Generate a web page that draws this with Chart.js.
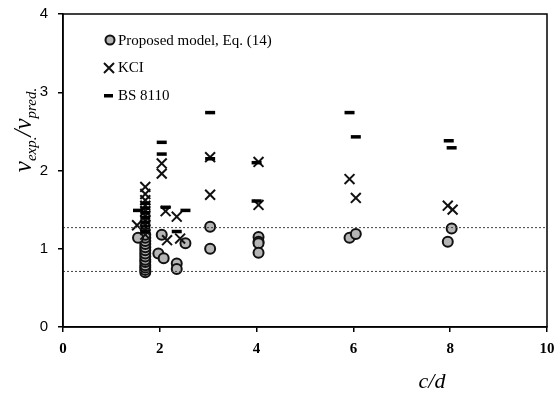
<!DOCTYPE html>
<html>
<head>
<meta charset="utf-8">
<script src="https://cdn.jsdelivr.net/npm/chart.js@4"></script>
<style>
  html, body { margin: 0; padding: 0; background: #fff; }
  #wrap { width: 556px; height: 397px; }
</style>
</head>
<body>
<div id="wrap"><canvas id="chart" width="556" height="397"></canvas></div>
<script>
// values
const proposedX = [1.7, 1.7, 1.7, 1.7, 1.7, 1.7, 1.7, 1.7, 1.7, 1.7, 1.7, 1.7, 1.7, 1.7,
                   1.55, 2.04, 1.97, 2.08, 2.35, 2.35, 2.53, 3.04, 3.04,
                   4.04, 4.04, 4.04, 4.04, 5.92, 6.05, 7.95, 8.03];
const proposedY = [0.70, 0.73, 0.76, 0.79, 0.83, 0.86, 0.90, 0.94, 0.98, 1.02, 1.06, 1.10, 1.14, 1.18,
                   1.14, 1.18, 0.94, 0.88, 0.81, 0.74, 1.07, 1.28, 1.00,
                   1.15, 1.09, 1.07, 0.95, 1.14, 1.19, 1.09, 1.26];

const kciX = [1.7, 1.7, 1.7, 1.7, 1.7, 1.7, 1.7, 1.7, 1.7, 1.7,
              1.53, 2.04, 2.04, 2.12, 2.15, 2.35, 2.42, 3.04, 3.04,
              4.04, 4.04, 5.92, 6.05, 7.95, 8.05];
const kciY = [1.79, 1.70, 1.62, 1.55, 1.48, 1.42, 1.36, 1.30, 1.24, 1.18,
              1.30, 2.09, 1.96, 1.48, 1.11, 1.41, 1.13, 2.17, 1.69,
              2.11, 1.56, 1.89, 1.65, 1.55, 1.50];

const bsX = [1.7, 1.7, 1.7, 1.7, 1.7, 1.7, 1.7,
             1.55, 2.04, 2.04, 2.12, 2.35, 2.53, 3.04, 3.04,
             4.0, 4.0, 5.92, 6.05, 7.97, 8.03];
const bsY = [1.58, 1.52, 1.46, 1.40, 1.34, 1.28, 1.22,
             1.49, 2.36, 2.21, 1.53, 1.22, 1.49, 2.74, 2.15,
             2.10, 1.61, 2.74, 2.43, 2.38, 2.29];

const limitX = [0, 10];
const upperLimit = 1.27;
const lowerLimit = 0.71;

const xTicks = [0, 2, 4, 6, 8, 10];
const yTicks = [0, 1, 2, 3, 4];

function pts(xs, ys) {
    return xs.map(function(x, i) { return { x: x, y: ys[i] }; });
}

// frame, legend and axis titles
const decor = {
    id: 'decor',
    afterDraw(chart) {
        const ctx = chart.ctx;
        const a = chart.chartArea;
        ctx.save();
        ctx.strokeStyle = '#000';
        ctx.lineWidth = 1.5;
        ctx.strokeRect(a.left, a.top, a.right - a.left, a.bottom - a.top);

        // legend
        ctx.font = '15px "Liberation Serif"';
        ctx.fillStyle = '#000';
        ctx.textBaseline = 'middle';
        ctx.textAlign = 'left';
        // circle
        ctx.beginPath();
        ctx.arc(110, 40, 4.5, 0, Math.PI * 2);
        ctx.fillStyle = '#b5b5b5';
        ctx.fill();
        ctx.lineWidth = 2;
        ctx.strokeStyle = '#111';
        ctx.stroke();
        ctx.fillStyle = '#000';
        ctx.fillText('Proposed model, Eq. (14)', 118, 41);
        // cross
        ctx.beginPath();
        ctx.moveTo(104, 63); ctx.lineTo(114, 73);
        ctx.moveTo(114, 63); ctx.lineTo(104, 73);
        ctx.lineWidth = 2;
        ctx.stroke();
        ctx.fillText('KCI', 118, 68);
        // dash
        ctx.fillRect(104, 94, 9, 3.5);
        ctx.fillText('BS 8110', 118, 96);

        // x title
        ctx.font = 'italic 22px "Liberation Serif"';
        ctx.textAlign = 'center';
        ctx.fillText('c/d', 432, 382);

        // y title with subscripts
        ctx.translate(27, 130);
        ctx.rotate(-Math.PI / 2);
        const parts = [
            ['v', 'italic 25px "Liberation Serif"', 0],
            ['exp.', 'italic 15px "Liberation Serif"', 5],
            ['/v', 'italic 25px "Liberation Serif"', 0],
            ['pred.', 'italic 15px "Liberation Serif"', 5]
        ];
        let w = 0;
        parts.forEach(function(p) { ctx.font = p[1]; w += ctx.measureText(p[0]).width; });
        let x = -w / 2;
        ctx.textAlign = 'left';
        ctx.textBaseline = 'alphabetic';
        parts.forEach(function(p) {
            ctx.font = p[1];
            ctx.fillText(p[0], x, 4 + p[2]);
            x += ctx.measureText(p[0]).width;
        });
        ctx.restore();
    }
};

const ctx = document.getElementById('chart').getContext('2d');
new Chart(ctx, {
    type: 'scatter',
    data: {
        datasets: [
            {
                label: 'upper',
                type: 'line',
                data: pts(limitX, [upperLimit, upperLimit]),
                borderColor: '#444',
                borderWidth: 1,
                borderDash: [2, 2],
                pointRadius: 0
            },
            {
                label: 'lower',
                type: 'line',
                data: pts(limitX, [lowerLimit, lowerLimit]),
                borderColor: '#444',
                borderWidth: 1,
                borderDash: [2, 2],
                pointRadius: 0
            },
            {
                label: 'BS 8110',
                data: pts(bsX, bsY),
                pointStyle: 'line',
                pointRadius: 5,
                borderColor: '#000',
                borderWidth: 3.5
            },
            {
                label: 'KCI',
                data: pts(kciX, kciY),
                pointStyle: 'crossRot',
                pointRadius: 7,
                borderColor: '#111',
                borderWidth: 2
            },
            {
                label: 'Proposed model, Eq. (14)',
                data: pts(proposedX, proposedY),
                pointStyle: 'circle',
                pointRadius: 5,
                backgroundColor: '#b5b5b5',
                borderColor: '#111',
                borderWidth: 2
            }
        ]
    },
    options: {
        responsive: false,
        animation: false,
        layout: { padding: { top: 14, right: 9, left: 0, bottom: 0 } },
        plugins: {
            legend: { display: false },
            tooltip: { enabled: false }
        },
        scales: {
            x: {
                type: 'linear',
                min: 0,
                max: 10,
                afterBuildTicks(axis) { axis.ticks = xTicks.map(function(v) { return { value: v }; }); },
                afterFit(axis) { axis.height = 70; axis.paddingLeft = 0; axis.paddingRight = 0; },
                border: { display: true, color: '#000', width: 1.5 },
                grid: { drawOnChartArea: false, color: '#000', tickLength: 5, lineWidth: 1.5 },
                ticks: {
                    color: '#000',
                    padding: 8,
                    font: { family: '"Liberation Serif"', size: 15, weight: 'bold' }
                }
            },
            y: {
                min: 0,
                max: 4,
                afterBuildTicks(axis) { axis.ticks = yTicks.map(function(v) { return { value: v }; }); },
                afterFit(axis) { axis.width = 63; axis.paddingTop = 0; axis.paddingBottom = 0; },
                border: { display: true, color: '#000', width: 1.5 },
                grid: { drawOnChartArea: false, color: '#000', tickLength: 5, lineWidth: 1.5 },
                ticks: {
                    color: '#000',
                    padding: 10,
                    font: { family: '"Liberation Sans"', size: 15 }
                }
            }
        }
    },
    plugins: [decor]
});
</script>
</body>
</html>
